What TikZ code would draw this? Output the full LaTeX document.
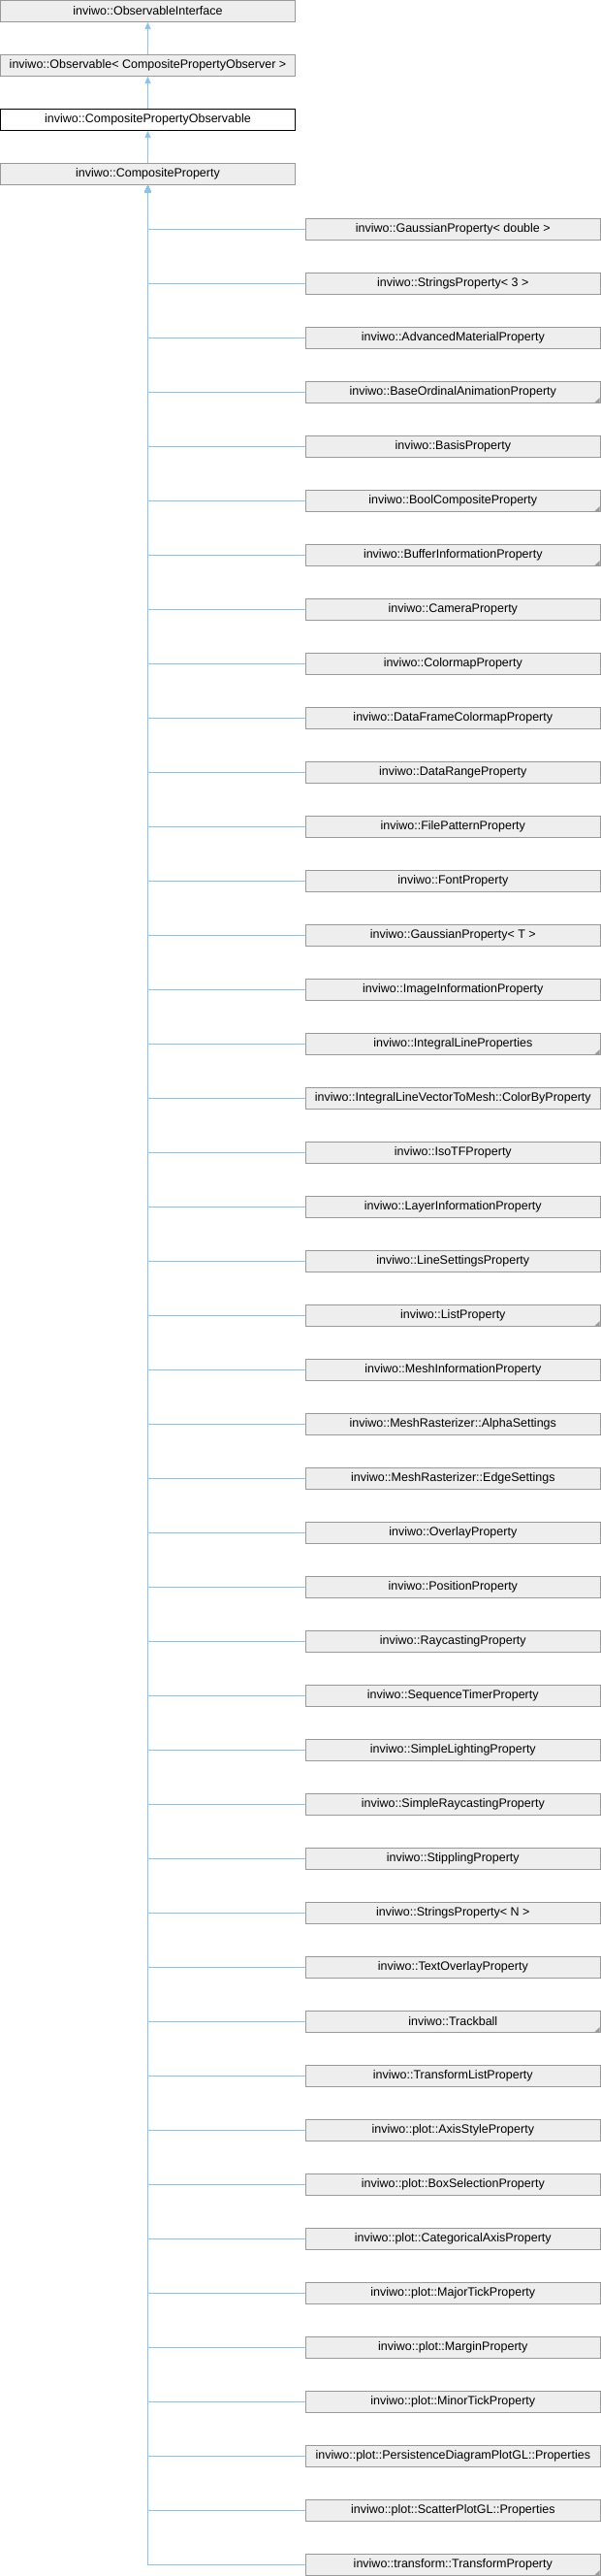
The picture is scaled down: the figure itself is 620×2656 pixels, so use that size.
\documentclass[tikz,border=0pt]{standalone}
\usepackage{fontspec}
\setmainfont{Liberation Sans}
\usetikzlibrary{arrows.meta,calc}
\definecolor{edgeblue}{RGB}{135,195,235}
\definecolor{boxfill}{RGB}{238,238,238}
\definecolor{boxline}{RGB}{153,153,153}
\begin{document}
\begin{tikzpicture}[x=1pt,y=1pt,
  cls/.style={draw=boxline,fill=boxfill,line width=1pt,minimum width=303.5pt,minimum height=22pt,inner sep=0pt,font=\fontsize{12.5}{14}\selectfont},
  mainbox/.style={cls,draw=black,fill=white},
  inh/.style={draw=edgeblue,line width=1pt,-{Triangle[width=6pt,length=7pt,fill=edgeblue]}},
  cornermark/.style={fill=boxline}]
\useasboundingbox (0,0) rectangle (620,-2656);
\node[cls] (oi) at (152.5,-11.5) {inviwo::ObservableInterface};
\node[cls] (ob) at (152.5,-67.5) {inviwo::Observable< CompositePropertyObserver >};
\node[mainbox] (cpo) at (152.5,-123.5) {inviwo::CompositePropertyObservable};
\node[cls] (cp) at (152.5,-179.5) {inviwo::CompositeProperty};
\draw[inh] (ob.north) -- (oi.south);
\draw[inh] (cpo.north) -- (ob.south);
\draw[inh] (cp.north) -- (cpo.south);
\foreach \t/\k [count=\i] in {
inviwo::GaussianProperty< double >/0,
inviwo::StringsProperty< 3 >/0,
inviwo::AdvancedMaterialProperty/0,
inviwo::BaseOrdinalAnimationProperty/1,
inviwo::BasisProperty/0,
inviwo::BoolCompositeProperty/1,
inviwo::BufferInformationProperty/1,
inviwo::CameraProperty/0,
inviwo::ColormapProperty/0,
inviwo::DataFrameColormapProperty/0,
inviwo::DataRangeProperty/0,
inviwo::FilePatternProperty/0,
inviwo::FontProperty/0,
inviwo::GaussianProperty< T >/0,
inviwo::ImageInformationProperty/0,
inviwo::IntegralLineProperties/1,
inviwo::IntegralLineVectorToMesh::ColorByProperty/0,
inviwo::IsoTFProperty/0,
inviwo::LayerInformationProperty/0,
inviwo::LineSettingsProperty/0,
inviwo::ListProperty/1,
inviwo::MeshInformationProperty/0,
inviwo::MeshRasterizer::AlphaSettings/0,
inviwo::MeshRasterizer::EdgeSettings/0,
inviwo::OverlayProperty/0,
inviwo::PositionProperty/0,
inviwo::RaycastingProperty/0,
inviwo::SequenceTimerProperty/0,
inviwo::SimpleLightingProperty/0,
inviwo::SimpleRaycastingProperty/0,
inviwo::StipplingProperty/0,
inviwo::StringsProperty< N >/0,
inviwo::TextOverlayProperty/0,
inviwo::Trackball/1,
inviwo::TransformListProperty/0,
inviwo::plot::AxisStyleProperty/0,
inviwo::plot::BoxSelectionProperty/0,
inviwo::plot::CategoricalAxisProperty/0,
inviwo::plot::MajorTickProperty/0,
inviwo::plot::MarginProperty/0,
inviwo::plot::MinorTickProperty/0,
inviwo::plot::PersistenceDiagramPlotGL::Properties/0,
inviwo::plot::ScatterPlotGL::Properties/0,
inviwo::transform::TransformProperty/1} {
  \node[cls] (c\i) at (467.3,{-236.5-56*(\i-1)}) {\t};
  \ifnum\k=1
    \fill[cornermark] ($(c\i.south east)+(-6,1)$) -- ($(c\i.south east)+(-1,1)$) -- ($(c\i.south east)+(-1,6)$) -- cycle;
  \fi
  \draw[inh] (c\i.west) -| (cp.south);
}
\end{tikzpicture}
\end{document}
